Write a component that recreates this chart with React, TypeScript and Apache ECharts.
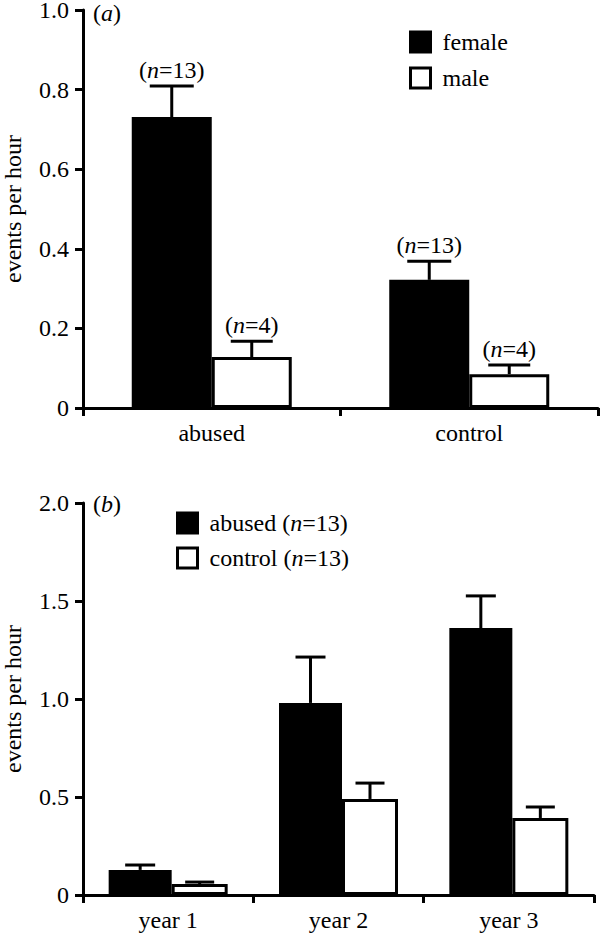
import React, { useEffect, useRef } from "react";
import * as echarts from "echarts";

// ---- panel (a) data ----
const catsA = ["abused", "control"];
const femaleMean = [0.731, 0.322];
const femaleSem = [0.078, 0.047];
const femaleN = [13, 13];
const maleMean = [0.128, 0.085];
const maleSem = [0.04, 0.023];
const maleN = [4, 4];
const ticksA = { min: 0, max: 1.0, interval: 0.2 };

// ---- panel (b) data ----
const catsB = ["year 1", "year 2", "year 3"];
const abusedMean = [0.128, 0.98, 1.362];
const abusedSem = [0.025, 0.234, 0.164];
const controlMean = [0.056, 0.49, 0.393];
const controlSem = [0.01, 0.081, 0.056];
const groupN = { abused: 13, control: 13 };
const ticksB = { min: 0, max: 2.0, interval: 0.5 };

const FONT = "'Liberation Serif', 'Times New Roman', serif";
const FS = 24;
const rich = {
  p: { fontFamily: FONT, fontSize: FS, color: "#000", fontWeight: "normal" },
  i: { fontFamily: FONT, fontSize: FS, color: "#000", fontStyle: "italic", fontWeight: "normal" },
};

const nLabel = (n: number) => `{p|(}{i|n}{p|=${n})}`;

function errRender(offset: number, capW: number, labels?: number[]) {
  return (params: any, api: any) => {
    const i = api.value(0);
    const m = api.value(1);
    const s = api.value(2);
    const p0 = api.coord([i, m]);
    const p1 = api.coord([i, m + s]);
    const x = p0[0] + offset;
    const children: any[] = [
      { type: "line", shape: { x1: x, y1: p0[1], x2: x, y2: p1[1] }, style: { stroke: "#000", lineWidth: 3 } },
      { type: "line", shape: { x1: x - capW / 2, y1: p1[1], x2: x + capW / 2, y2: p1[1] }, style: { stroke: "#000", lineWidth: 3 } },
    ];
    if (labels) {
      children.push({
        type: "text",
        style: {
          text: nLabel(labels[params.dataIndex]),
          rich,
          x: x,
          y: p1[1] - 4,
          align: "center",
          verticalAlign: "bottom",
          fontFamily: FONT,
          fontSize: FS,
          fill: "#000",
        },
      });
    }
    return { type: "group", children };
  };
}

const axisLine = { show: true, lineStyle: { color: "#000", width: 3 } };
const axisTick = { show: true, length: 8, lineStyle: { color: "#000", width: 3 } };
const labelStyle = { fontFamily: FONT, fontSize: FS, color: "#000", fontWeight: "normal" };
const yFmt = (v: number) => (v === 0 ? "0" : v.toFixed(1));

const WA = 80;
const WB1 = 63;
const WB2 = 56;

export default function App() {
  const ref = useRef<HTMLDivElement>(null);
  useEffect(() => {
    const chart = echarts.init(ref.current!, null, { renderer: "svg" });
    const option: any = {
      animation: false,
      backgroundColor: "#fff",
      textStyle: { fontFamily: FONT },
      title: [
        { text: "{p|(}{i|a}{p|)}", left: 93, top: 1, padding: 0, textStyle: { rich, fontWeight: "normal", fontFamily: FONT } },
        { text: "{p|(}{i|b}{p|)}", left: 93, top: 492, padding: 0, textStyle: { rich, fontWeight: "normal", fontFamily: FONT } },
      ],
      legend: [
        {
          orient: "vertical",
          left: 409,
          top: 30,
          padding: 0,
          itemGap: 12,
          itemWidth: 20,
          itemHeight: 20,
          selectedMode: false,
          icon: "rect",
          textStyle: { ...labelStyle, padding: [0, 0, 0, 7] },
          data: [
            { name: "female", itemStyle: { color: "#000", borderColor: "#000", borderWidth: 3 } },
            { name: "male", itemStyle: { color: "#fff", borderColor: "#000", borderWidth: 3 } },
          ],
        },
        {
          orient: "vertical",
          left: 176,
          top: 511,
          padding: 0,
          itemGap: 11,
          itemWidth: 20,
          itemHeight: 20,
          selectedMode: false,
          icon: "rect",
          formatter: (name: string) => `{p|${name} (}{i|n}{p|=${(groupN as any)[name]})}`,
          textStyle: { ...labelStyle, padding: [0, 0, 0, 7], rich },
          data: [
            { name: "abused", itemStyle: { color: "#000", borderColor: "#000", borderWidth: 3 } },
            { name: "control", itemStyle: { color: "#fff", borderColor: "#000", borderWidth: 3 } },
          ],
        },
      ],
      grid: [
        { left: 83, top: 10, width: 515, height: 398, outerBoundsMode: "none", containLabel: false },
        { left: 83, top: 503, width: 511, height: 392, outerBoundsMode: "none", containLabel: false },
      ],
      xAxis: [
        {
          gridIndex: 0,
          type: "category",
          data: catsA,
          axisLine,
          axisTick,
          axisLabel: { ...labelStyle, margin: 13 },
        },
        {
          gridIndex: 1,
          type: "category",
          data: catsB,
          axisLine,
          axisTick,
          axisLabel: { ...labelStyle, margin: 13 },
        },
      ],
      yAxis: [
        {
          gridIndex: 0,
          type: "value",
          ...ticksA,
          axisLine,
          axisTick,
          splitLine: { show: false },
          axisLabel: { ...labelStyle, margin: 14, formatter: yFmt },
          name: "events per hour",
          nameLocation: "middle",
          nameRotate: 90,
          nameGap: 58,
          nameTextStyle: labelStyle,
        },
        {
          gridIndex: 1,
          type: "value",
          ...ticksB,
          axisLine,
          axisTick,
          splitLine: { show: false },
          axisLabel: { ...labelStyle, margin: 14, formatter: yFmt },
          name: "events per hour",
          nameLocation: "middle",
          nameRotate: 90,
          nameGap: 58,
          nameTextStyle: labelStyle,
        },
      ],
      series: [
        {
          name: "female",
          type: "bar",
          xAxisIndex: 0,
          yAxisIndex: 0,
          barWidth: WA,
          barGap: "0%",
          data: femaleMean,
          itemStyle: { color: "#000", borderColor: "#000", borderWidth: 0 },
        },
        {
          name: "male",
          type: "bar",
          xAxisIndex: 0,
          yAxisIndex: 0,
          barWidth: WA,
          barGap: "0%",
          data: maleMean,
          itemStyle: { color: "#fff", borderColor: "#000", borderWidth: 3 },
        },
        {
          type: "custom",
          xAxisIndex: 0,
          yAxisIndex: 0,
          z: 5,
          renderItem: errRender(-WA / 2, 44, femaleN),
          data: femaleMean.map((m, i) => [i, m, femaleSem[i]]),
        },
        {
          type: "custom",
          xAxisIndex: 0,
          yAxisIndex: 0,
          z: 5,
          renderItem: errRender(WA / 2, 42, maleN),
          data: maleMean.map((m, i) => [i, m, maleSem[i]]),
        },
        {
          name: "abused",
          type: "bar",
          xAxisIndex: 1,
          yAxisIndex: 1,
          barWidth: WB1,
          barGap: "0%",
          data: abusedMean,
          itemStyle: { color: "#000", borderColor: "#000", borderWidth: 0 },
        },
        {
          name: "control",
          type: "bar",
          xAxisIndex: 1,
          yAxisIndex: 1,
          barWidth: WB2,
          barGap: "0%",
          data: controlMean,
          itemStyle: { color: "#fff", borderColor: "#000", borderWidth: 3 },
        },
        {
          type: "custom",
          xAxisIndex: 1,
          yAxisIndex: 1,
          z: 5,
          renderItem: errRender(-(WB1 + WB2) / 2 + WB1 / 2, 30),
          data: abusedMean.map((m, i) => [i, m, abusedSem[i]]),
        },
        {
          type: "custom",
          xAxisIndex: 1,
          yAxisIndex: 1,
          z: 5,
          renderItem: errRender(-(WB1 + WB2) / 2 + WB1 + WB2 / 2, 29),
          data: controlMean.map((m, i) => [i, m, controlSem[i]]),
        },
      ],
    };
    chart.setOption(option);
    return () => chart.dispose();
  }, []);
  return (
    <div
      ref={ref}
      style={{ position: "absolute", left: 0, top: 0, width: 600, height: 933, background: "#fff" }}
    />
  );
}
